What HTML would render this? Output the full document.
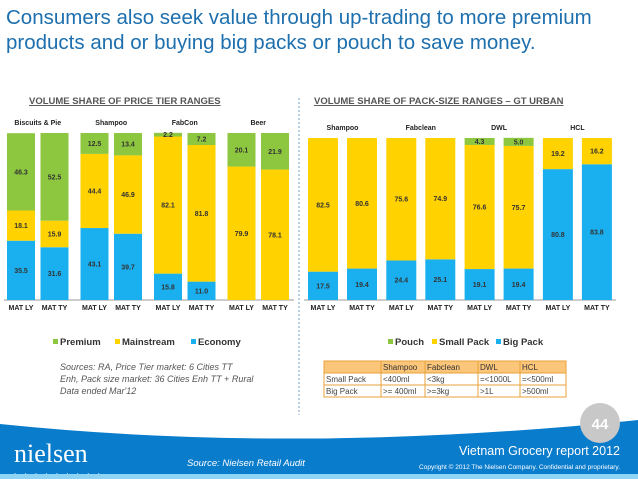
<!DOCTYPE html>
<html><head><meta charset="utf-8"><style>
html,body{margin:0;padding:0;background:#fff;}
body{width:638px;height:479px;overflow:hidden;position:relative;font-family:"Liberation Sans",sans-serif;}
svg text{font-family:"Liberation Sans",sans-serif;}
</style></head><body>
<svg id="s" width="638" height="479" viewBox="0 0 638 479" xmlns="http://www.w3.org/2000/svg">
<text x="6" y="24" font-size="20.5" fill="#1d6fae">Consumers also seek value through up-trading to more premium</text>
<text x="6" y="49" font-size="20.5" fill="#1d6fae">products and or buying big packs or pouch to save money.</text>
<text x="29" y="104" font-size="9.5" font-weight="bold" fill="#555" text-decoration="underline">VOLUME SHARE OF PRICE TIER RANGES</text>
<text x="314" y="104" font-size="9.5" font-weight="bold" fill="#555" text-decoration="underline">VOLUME SHARE OF PACK-SIZE RANGES – GT URBAN</text>
<line x1="299" y1="98" x2="299" y2="415" stroke="#7a9cc6" stroke-dasharray="2,2"/>
<g id="left"></g>
<g id="right"></g>
<g>
<rect x="53" y="339" width="5" height="5" fill="#8dc63f"/><text x="60" y="345" font-size="9.5" font-weight="bold" fill="#333">Premium</text>
<rect x="115" y="339" width="5" height="5" fill="#ffd200"/><text x="122" y="345" font-size="9.5" font-weight="bold" fill="#333">Mainstream</text>
<rect x="191" y="339" width="5" height="5" fill="#1ab0ef"/><text x="198" y="345" font-size="9.5" font-weight="bold" fill="#333">Economy</text>
</g>
<g>
<rect x="388" y="339" width="5" height="5" fill="#8dc63f"/><text x="395" y="345" font-size="9.5" font-weight="bold" fill="#333">Pouch</text>
<rect x="432" y="339" width="5" height="5" fill="#ffd200"/><text x="439" y="345" font-size="9.5" font-weight="bold" fill="#333">Small Pack</text>
<rect x="496" y="339" width="5" height="5" fill="#1ab0ef"/><text x="503" y="345" font-size="9.5" font-weight="bold" fill="#333">Big Pack</text>
</g>
<g font-size="9" font-style="italic" fill="#555">
<text x="60" y="370">Sources: RA, Price Tier market: 6 Cities TT</text>
<text x="60" y="382">Enh, Pack size market: 36 Cities Enh TT + Rural</text>
<text x="60" y="394">Data ended Mar'12</text>
</g>
<g font-size="8" fill="#444">
<rect x="324" y="361" width="242" height="36" fill="#fff" stroke="#e8a23a"/>
<rect x="324" y="361" width="242" height="12" fill="#fbc57a" stroke="#e8a23a"/>
<line x1="324" y1="385" x2="566" y2="385" stroke="#e8a23a"/>
<line x1="381" y1="361" x2="381" y2="397" stroke="#e8a23a"/>
<line x1="425" y1="361" x2="425" y2="397" stroke="#e8a23a"/>
<line x1="478" y1="361" x2="478" y2="397" stroke="#e8a23a"/>
<line x1="520" y1="361" x2="520" y2="397" stroke="#e8a23a"/>
<text x="383" y="370" fill="#333">Shampoo</text><text x="427" y="370" fill="#333">Fabclean</text><text x="480" y="370" fill="#333">DWL</text><text x="522" y="370" fill="#333">HCL</text>
<text x="326" y="382">Small Pack</text><text x="383" y="382">&lt;400ml</text><text x="427" y="382">&lt;3kg</text><text x="480" y="382">=&lt;1000L</text><text x="522" y="382">=&lt;500ml</text>
<text x="326" y="394">Big Pack</text><text x="383" y="394">&gt;= 400ml</text><text x="427" y="394">&gt;=3kg</text><text x="480" y="394">&gt;1L</text><text x="522" y="394">&gt;500ml</text>
</g>
<path d="M0 424 Q300 455 638 420 L638 474 L0 474 Z" fill="#0a7ccc"/>
<rect x="0" y="474" width="638" height="5" fill="#8fd3f5"/>
<circle cx="600" cy="423" r="20" fill="#c8c8c8"/>
<text x="600" y="429" font-size="15" font-weight="bold" fill="#fff" text-anchor="middle">44</text>
<text x="14" y="462" font-size="26" fill="#fff" style="font-family:'Liberation Serif',serif">nielsen</text>
<text x="14" y="474" font-size="8" fill="#fff" letter-spacing="3">. . . . . . . . .</text>
<text x="187" y="466" font-size="9.5" font-style="italic" fill="#fff">Source: Nielsen Retail Audit</text>
<text x="620" y="455" font-size="12.5" fill="#fff" text-anchor="end">Vietnam Grocery report 2012</text>
<text x="620" y="469" font-size="6.5" fill="#fff" text-anchor="end">Copyright © 2012 The Nielsen Company. Confidential and proprietary.</text>
</svg>
<script>
const leftGroups=["Biscuits & Pie","Shampoo","FabCon","Beer"];
const leftEconomy=[35.5,31.6,43.1,39.7,15.8,11.0,0,0];
const leftMainstream=[18.1,15.9,44.4,46.9,82.1,81.8,79.9,78.1];
const leftPremium=[46.3,52.5,12.5,13.4,2.2,7.2,20.1,21.9];
const rightGroups=["Shampoo","Fabclean","DWL","HCL"];
const rightBig=[17.5,19.4,24.4,25.1,19.1,19.4,80.8,83.8];
const rightSmall=[82.5,80.6,75.6,74.9,76.6,75.7,19.2,16.2];
const rightPouch=[0,0,0,0,4.3,5.0,0,0];
const periods=["MAT LY","MAT TY"];
const NS="http://www.w3.org/2000/svg";
const C={g:"#8dc63f",y:"#ffd200",b:"#1ab0ef"};
function mk(tag,at,parent){const e=document.createElementNS(NS,tag);for(const k in at)e.setAttribute(k,at[k]);parent.appendChild(e);return e;}
function drawChart(gid,groups,series,xStart,pairGap,groupStep,barW,top,bottom,axisX1,axisX2){
  const g=document.getElementById(gid);
  const yScale=v=>(bottom-top)*v/100;
  mk("line",{x1:axisX1,y1:bottom,x2:axisX2,y2:bottom,stroke:"#999"},g);
  groups.forEach((name,gi)=>{
    const gx=xStart+gi*groupStep;
    const t=mk("text",{x:gx+(pairGap+barW)/2,y:top-8,"font-size":"7","font-weight":"bold","text-anchor":"middle",fill:"#222"},g);
    t.textContent=name;
    
    
    for(let p=0;p<2;p++){
      const i=gi*2+p;const x=gx+p*pairGap;let y=bottom;
      series.forEach(s=>{
        const v=s.vals[i];if(!v)return;
        const h=yScale(v);y-=h;
        const r=mk("rect",{x:x,y:y,width:barW,height:h,fill:s.col},g);
        
        
        const lt=mk("text",{x:x+barW/2,y:y+h/2+2.5,"font-size":"7","font-weight":"bold","text-anchor":"middle",fill:"#333"},g);
        lt.textContent=v.toFixed(1);
        
        
      });
      const pl=mk("text",{x:x+barW/2,y:bottom+10,"font-size":"7","font-weight":"bold","text-anchor":"middle",fill:"#222"},g);
      pl.textContent=periods[p];
      
      
    }
  });
}
drawChart("left",leftGroups,[{vals:leftEconomy,col:C.b},{vals:leftMainstream,col:C.y},{vals:leftPremium,col:C.g}],7,33.5,73.5,28,133,300,4,294);
drawChart("right",rightGroups,[{vals:rightBig,col:C.b},{vals:rightSmall,col:C.y},{vals:rightPouch,col:C.g}],308,39,78.3,30,138,300,304,616);
</script>
</body></html>
